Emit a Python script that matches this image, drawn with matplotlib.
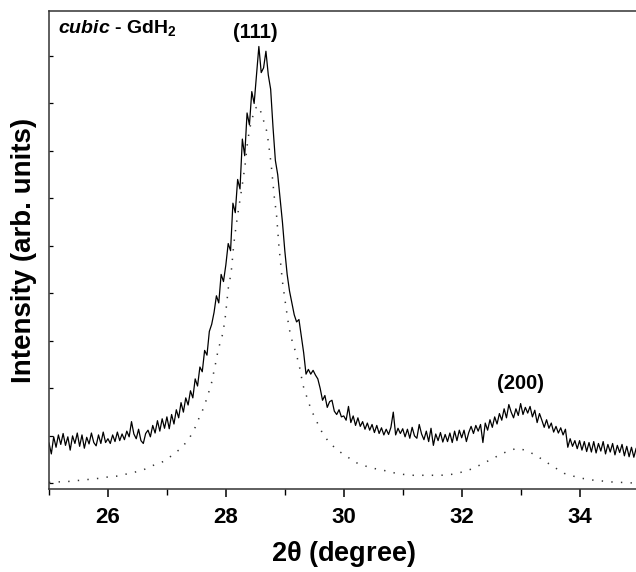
import matplotlib
matplotlib.use("Agg")
import matplotlib.pyplot as plt
import numpy as np
from matplotlib.ticker import MultipleLocator, NullFormatter

plt.rcParams['font.family'] = ['Liberation Sans', 'DejaVu Sans']
plt.rcParams['font.weight'] = 'bold'
plt.rcParams['mathtext.fontset'] = 'custom'
plt.rcParams['mathtext.rm'] = 'Liberation Sans:bold'
plt.rcParams['mathtext.bf'] = 'Liberation Sans:bold'
plt.rcParams['mathtext.it'] = 'Liberation Sans:italic:bold'

# measured pattern, 2theta step 0.04 deg from 25 to 35
two_theta = np.round(25 + 0.04 * np.arange(251), 2)
counts = [
    # 25.00 - 25.96
    0.85, 0.62, 0.98, 0.76, 1.02, 0.82, 1.05, 0.80, 0.98, 0.70, 1.00, 0.84, 1.06,
    0.78, 1.02, 0.74, 0.97, 0.83, 1.06, 0.86, 0.79, 1.02, 0.84, 1.08, 0.86,
    # 26.00 - 26.96
    0.94, 0.84, 1.02, 0.88, 1.08, 0.90, 1.04, 0.92, 1.10, 0.98, 1.30, 1.04, 0.94,
    1.14, 0.90, 0.84, 1.05, 1.12, 0.98, 1.22, 1.06, 1.32, 1.10, 1.36, 1.16,
    # 27.00 - 27.96
    1.40, 1.15, 1.45, 1.25, 1.55, 1.38, 1.70, 1.50, 1.80, 1.65, 1.95, 1.80, 2.20,
    2.05, 2.45, 2.35, 2.80, 2.70, 3.20, 3.35, 3.60, 3.95, 3.80, 4.40, 4.25,
    # 28.00 - 28.96
    4.60, 5.05, 4.90, 5.90, 5.70, 6.40, 6.20, 7.25, 6.90, 7.80, 7.55, 8.25, 8.00,
    8.60, 9.20, 8.65, 8.75, 9.10, 8.60, 8.30, 7.50, 6.80, 6.50, 6.00, 5.50,
    # 29.00 - 29.96
    4.90, 4.40, 4.05, 3.80, 3.55, 3.40, 3.45, 3.10, 2.75, 2.30, 2.40, 2.30, 2.38,
    2.28, 2.20, 2.00, 1.75, 1.85, 1.60, 1.72, 1.75, 1.52, 1.45, 1.55, 1.40,
    # 30.00 - 30.96
    1.42, 1.33, 1.62, 1.28, 1.42, 1.22, 1.38, 1.20, 1.30, 1.14, 1.27, 1.12, 1.24,
    1.07, 1.22, 1.05, 1.17, 1.02, 1.14, 1.03, 1.18, 1.50, 1.02, 1.16, 1.05,
    # 31.00 - 31.96
    1.15, 0.98, 1.14, 0.95, 1.18, 1.00, 0.95, 1.24, 1.04, 0.92, 1.10, 0.88, 1.16,
    0.80, 1.04, 0.90, 1.07, 0.87, 1.03, 0.88, 1.06, 0.86, 1.10, 0.90, 1.12,
    # 32.00 - 32.96
    0.96, 1.12, 0.88, 1.07, 1.20, 1.05, 1.22, 1.10, 1.24, 0.86, 1.27, 1.12, 1.34,
    1.18, 1.40, 1.25, 1.47, 1.33, 1.57, 1.38, 1.66, 1.50, 1.38, 1.57, 1.43,
    # 33.00 - 33.96
    1.68, 1.45, 1.60, 1.48, 1.62, 1.40, 1.54, 1.28, 1.47, 1.33, 1.18, 1.34, 1.16,
    1.27, 1.08, 1.20, 1.06, 1.17, 1.02, 1.14, 0.76, 0.94, 0.78, 0.90, 0.73,
    # 34.00 - 35.00
    0.90, 0.70, 0.88, 0.67, 0.86, 0.66, 0.88, 0.64, 0.84, 0.68, 0.88, 0.62, 0.82,
    0.66, 0.84, 0.60, 0.80, 0.65, 0.82, 0.58, 0.78, 0.56, 0.76, 0.55, 0.74, 0.65,
]

# fitted profile (dotted)
fit_x = [25.0, 25.15, 25.33, 25.49, 25.65, 25.81, 25.97, 26.14, 26.29, 26.44,
         26.61, 26.77, 26.94, 27.09, 27.26, 27.39, 27.48, 27.55, 27.62, 27.68,
         27.72, 27.77, 27.80, 27.83, 27.86, 27.90, 27.95, 27.99, 28.02, 28.04,
         28.07, 28.10, 28.12, 28.15, 28.20, 28.25, 28.29, 28.33, 28.36, 28.40,
         28.45, 28.50, 28.56, 28.63, 28.69, 28.72, 28.77, 28.82, 28.86, 28.90,
         28.96, 29.01, 29.06, 29.10, 29.20, 29.25, 29.31, 29.36, 29.41, 29.47,
         29.55, 29.63, 29.74, 29.89, 30.06, 30.20, 30.38, 30.53, 30.69, 30.86,
         31.00, 31.18, 31.35, 31.50, 31.65, 31.83, 31.98, 32.14, 32.30, 32.46,
         32.63, 32.80, 32.95, 33.10, 33.26, 33.42, 33.57, 33.74, 33.90, 34.07,
         34.22, 34.38, 34.54, 34.71, 34.86, 35.0]
fit_y = [0.02, 0.03, 0.04, 0.06, 0.08, 0.10, 0.13, 0.15, 0.19, 0.23,
         0.29, 0.38, 0.46, 0.59, 0.76, 0.97, 1.18, 1.39, 1.58, 1.80,
         1.96, 2.17, 2.38, 2.55, 2.75, 2.95, 3.16, 3.50, 3.85, 4.10,
         4.30, 4.55, 4.85, 5.20, 5.65, 6.05, 6.38, 6.74, 7.10, 7.45,
         7.70, 7.90, 7.95, 7.68, 7.43, 7.20, 6.70, 6.05, 5.65, 5.00,
         4.25, 3.80, 3.37, 3.10, 2.70, 2.45, 2.06, 1.87, 1.68, 1.49,
         1.28, 1.08, 0.88, 0.70, 0.56, 0.44, 0.36, 0.31, 0.27, 0.22,
         0.19, 0.17, 0.17, 0.17, 0.17, 0.19, 0.23, 0.29, 0.38, 0.48,
         0.59, 0.69, 0.74, 0.69, 0.59, 0.46, 0.34, 0.21, 0.15, 0.10,
         0.07, 0.05, 0.03, 0.02, 0.01, 0.01]

peak_labels = ['(111)', '(200)']
peak_pos = [28.5, 33.0]
peak_height = [9.5, 2.1]

fig = plt.figure(figsize=(6.36, 5.72), dpi=100)
ax = fig.add_axes([0.077, 0.145, 0.927, 0.836])

ax.plot(two_theta, counts, color='black', lw=0.9)
ax.plot(fit_x, fit_y, color='#333333', lw=1.1, linestyle=(0, (0.9, 5.4)))

for lab, px, py in zip(peak_labels, peak_pos, peak_height):
    ax.text(px, py, lab, ha='center', va='center', fontsize=14.5, fontweight='bold')
ax.text(25.15, 9.58, r'$\mathit{cubic}$ - GdH$_{\mathbf{2}}$', ha='left', va='center',
        fontsize=14, fontweight='bold')

ax.set_xlim(25, 35)
ax.set_ylim(-0.12, 9.95)
ax.xaxis.set_major_locator(MultipleLocator(2))
ax.xaxis.set_minor_locator(MultipleLocator(1))
ax.yaxis.set_major_locator(MultipleLocator(1))
ax.yaxis.set_major_formatter(NullFormatter())
ax.tick_params(axis='x', which='major', direction='out', length=6, width=1.1,
               labelsize=16, pad=7)
ax.tick_params(axis='x', which='minor', direction='out', length=4, width=1.0)
ax.tick_params(axis='y', which='major', direction='in', length=3, width=0.9)
for lbl in ax.get_xticklabels():
    lbl.set_fontweight('bold')
for sp in ax.spines.values():
    sp.set_linewidth(1.1)
    sp.set_color('#333333')

ax.set_xlabel(r'2$\mathregular{\theta}$ (degree)', fontsize=19.5, fontweight='bold')
ax.set_ylabel('Intensity (arb. units)', fontsize=20, fontweight='bold')
ax.xaxis.set_label_coords(0.5, -0.105)
ax.yaxis.set_label_coords(-0.02, 0.5)

fig.savefig('out.png', dpi=100)
